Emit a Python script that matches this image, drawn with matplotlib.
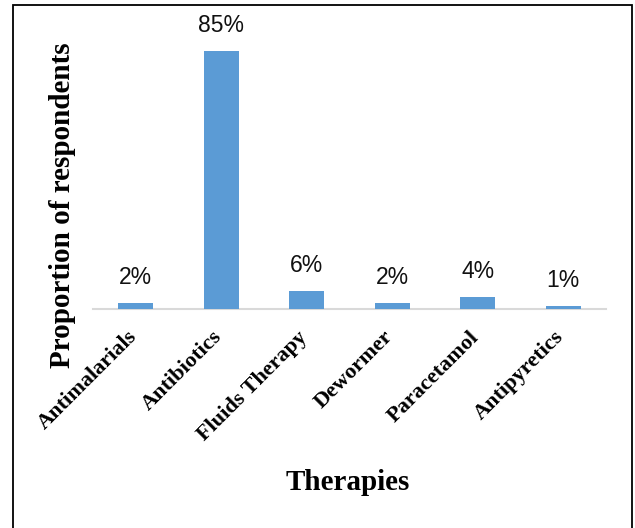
import matplotlib
matplotlib.use("Agg")
import matplotlib.pyplot as plt
import matplotlib.transforms as mtransforms
from matplotlib.patches import Rectangle

# data
therapies = ["Antimalarials", "Antibiotics", "Fluids Therapy",
             "Dewormer", "Paracetamol", "Antipyretics"]
proportions = [2, 85, 6, 2, 4, 1]
value_labels = ["2%", "85%", "6%", "2%", "4%", "1%"]

bar_color = "#5B9BD5"
serif = "Liberation Serif"
sans = "Liberation Sans"

fig = plt.figure(figsize=(6.35, 5.28), dpi=100)
ax = fig.add_axes([93 / 635, 1 - 309 / 528, (606 - 93) / 635, (309 - 36) / 528])

x = list(range(len(therapies)))
bars = ax.bar(x, proportions, width=0.41, color=bar_color, zorder=2)

for b, lab in zip(bars, value_labels):
    ax.annotate(lab, (b.get_x() + b.get_width() / 2, b.get_height()),
                xytext=(0, 10), textcoords="offset points",
                ha="center", va="bottom", fontsize=16.5, family=sans,
                color="#111111", annotation_clip=False)

ax.set_xlim(-0.5, len(therapies) - 0.5)
ax.set_ylim(0, 90)
ax.set_yticks([])
for s in ["left", "right", "top"]:
    ax.spines[s].set_visible(False)
ax.spines["bottom"].set_color("#D9D9D9")
ax.spines["bottom"].set_linewidth(1.5)
ax.spines["bottom"].set_zorder(1)

ax.set_xticks(x)
ax.set_xticklabels(therapies, rotation=45, ha="right", fontsize=16,
                   fontweight="bold", family=serif)
ax.tick_params(axis="x", length=0, pad=13)
shift = mtransforms.ScaledTranslation(5 / 100, 0, fig.dpi_scale_trans)
for t in ax.get_xticklabels():
    t.set_transform(t.get_transform() + shift)

fig.text(63 / 635, 1 - 205 / 528, "Proportion of respondents", rotation=90,
         ha="center", va="center", fontsize=21, fontweight="bold", family=serif)
fig.text(348 / 635, 1 - 483 / 528, "Therapies", ha="center", va="center",
         fontsize=21, fontweight="bold", family=serif)

# frame around the chart (bottom edge runs off the picture)
fig.patches.append(Rectangle((12.5 / 635, -0.05), (632 - 12.5) / 635, 1.05 - 5 / 528,
                             transform=fig.transFigure, fill=False,
                             edgecolor="black", linewidth=1.3))

fig.savefig("out.png", dpi=100)
